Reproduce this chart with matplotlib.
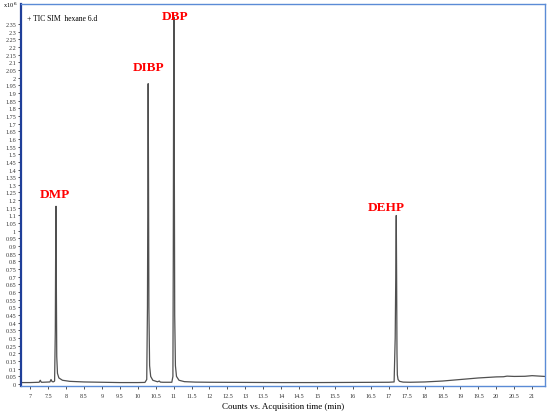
import numpy as np
import matplotlib
matplotlib.use("Agg")
import matplotlib.pyplot as plt

# chromatogram trace (min, counts x10^6)
t = [6.75, 7.0, 7.25, 7.28, 7.31, 7.35, 7.55, 7.58, 7.61, 7.65, 7.68, 7.70, 7.71, 7.72,
     7.73, 7.74, 7.76, 7.80, 7.9, 8.1, 8.5, 9.0, 9.5, 10.0, 10.2, 10.25, 10.27, 10.28,
     10.29, 10.30, 10.31, 10.33, 10.36, 10.42, 10.55, 10.6, 10.63, 10.7, 10.95, 10.98,
     10.99, 11.00, 11.01, 11.02, 11.03, 11.05, 11.08, 11.15, 11.3, 11.6, 12.0, 13.0,
     14.0, 15.0, 16.0, 17.0, 17.15, 17.18, 17.20, 17.21, 17.22, 17.23, 17.24, 17.26,
     17.3, 17.4, 17.6, 18.0, 18.5, 19.0, 19.5, 20.0, 20.2, 20.3, 20.5, 20.8, 21.0, 21.35]
y = [0.010, 0.010, 0.012, 0.025, 0.012, 0.012, 0.014, 0.030, 0.016, 0.015, 0.02, 0.35, 0.9, 1.16,
     0.60, 0.18, 0.07, 0.04, 0.025, 0.018, 0.014, 0.012, 0.010, 0.010, 0.011, 0.03, 0.5, 1.2,
     1.96, 1.3, 0.5, 0.12, 0.05, 0.025, 0.015, 0.02, 0.013, 0.012, 0.012, 0.05,
     0.8, 2.0, 2.395, 1.4, 0.45, 0.12, 0.05, 0.025, 0.016, 0.013, 0.012, 0.011,
     0.010, 0.010, 0.011, 0.012, 0.014, 0.3, 0.8, 1.10, 0.7, 0.2, 0.06, 0.03,
     0.018, 0.013, 0.012, 0.014, 0.020, 0.030, 0.040, 0.047, 0.048, 0.052, 0.050, 0.051, 0.055, 0.050]

peaks = ["DMP", "DIBP", "DBP", "DEHP"]
label_t = [7.70, 10.29, 11.04, 16.93]
label_y = [1.24, 2.07, 2.40, 1.155]

plt.rcParams["font.family"] = ["Liberation Serif", "DejaVu Serif"]

fig = plt.figure(figsize=(5.5, 4.14), dpi=100)
ax = fig.add_axes([0.038, 0.065, 0.953, 0.923])

ax.plot(t, y, color="#505050", lw=0.9)

for name, lx, ly in zip(peaks, label_t, label_y):
    ax.text(lx, ly, name, color="#ff0000", fontsize=9.5, weight="bold",
            ha="center", va="center")

ax.text(0.012, 0.975, "+ TIC SIM  hexane 6.d", transform=ax.transAxes,
        fontsize=5.5, ha="left", va="top")
fig.text(0.005, 0.986, "x10 $^6$", fontsize=4.5, ha="left", va="center")

ax.set_xlim(6.74, 21.36)
ax.set_ylim(-0.013, 2.48)
ax.set_xticks(np.arange(7, 21.01, 0.5))
ax.set_xticklabels([f"{v:g}" for v in np.arange(7, 21.01, 0.5)])
ax.set_yticks(np.arange(0, 2.351, 0.05))
ax.set_yticklabels([f"{v:g}" for v in np.round(np.arange(0, 2.351, 0.05), 2)])
ax.tick_params(labelsize=4.4, length=2, width=0.6, pad=1.5, colors="#333333")
ax.tick_params(axis="x", pad=3)

for side in ["top", "right", "bottom"]:
    ax.spines[side].set_color("#5b8bd6")
    ax.spines[side].set_linewidth(1.0)
ax.spines["left"].set_color("#1f3f99")
ax.spines["left"].set_linewidth(1.6)

ax.set_xlabel("Counts vs. Acquisition time (min)", fontsize=6.5, labelpad=3)

fig.savefig("out.png", dpi=100, facecolor="white")
